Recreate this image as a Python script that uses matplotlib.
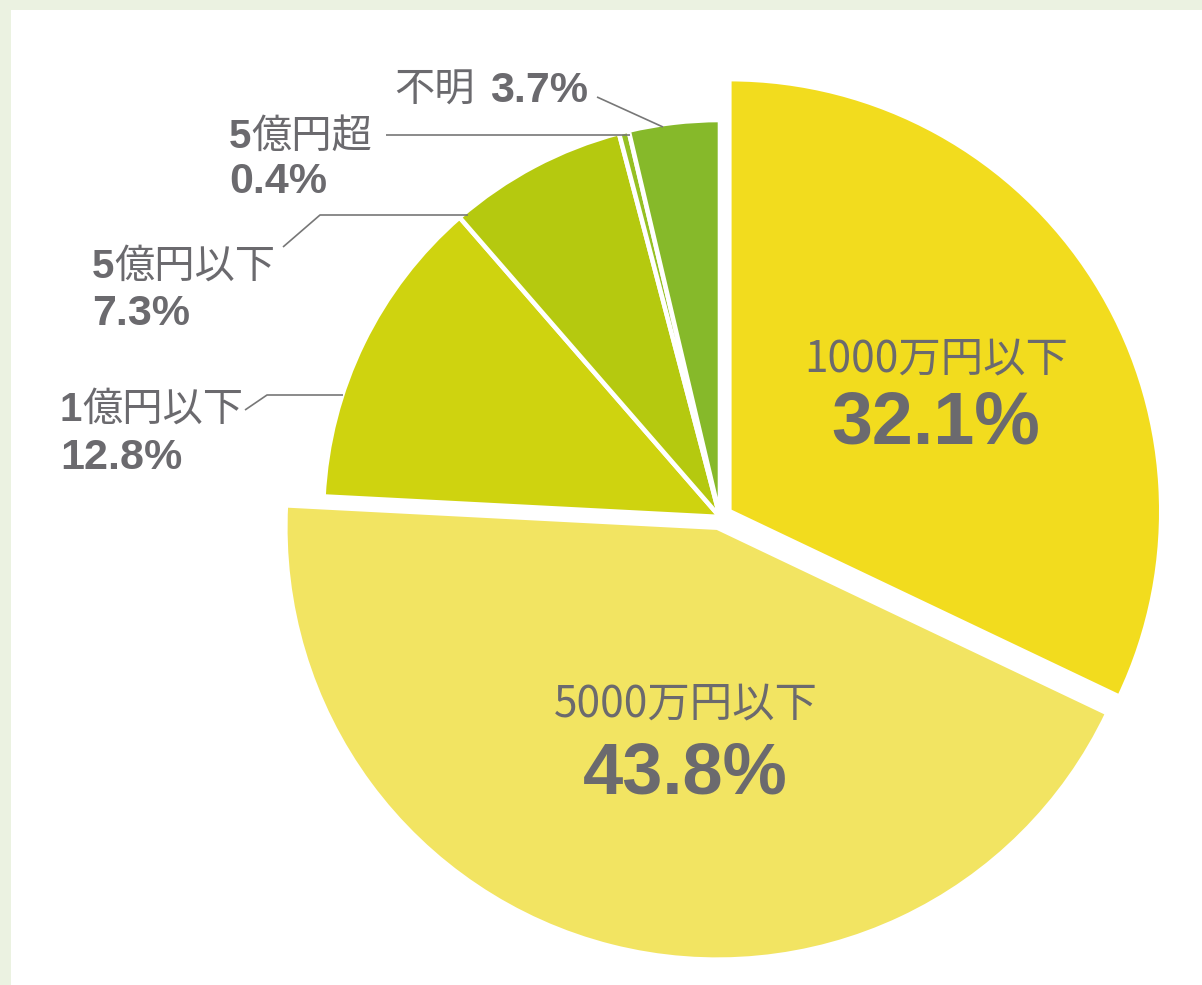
import matplotlib
matplotlib.use("Agg")
import matplotlib.pyplot as plt
from matplotlib.patches import Rectangle

# ---- data ----
categories = ["1000万円以下", "5000万円以下", "1億円以下", "5億円以下", "5億円超", "不明"]
values = [32.1, 43.8, 12.8, 7.3, 0.4, 3.7]
pct_labels = ["32.1%", "43.8%", "12.8%", "7.3%", "0.4%", "3.7%"]
colors = ["#f2dc1e", "#f2e462", "#cfd30f", "#b5c90f", "#96c023", "#86b92a"]

W, H = 1202, 985
TXT = "#6b6a6e"
LINE = "#777777"
FAM = ["Liberation Sans", "Noto Sans CJK JP", "DejaVu Sans"]
CJK = ["Noto Sans CJK JP", "DejaVu Sans"]

fig = plt.figure(figsize=(W / 100, H / 100), dpi=100, facecolor="#ebf2e1")
ax = fig.add_axes([0, 0, 1, 1])

def Y(py):
    return H - py

R_big = 432
R_small = 397
explode = [11, 11, 0, 0, 0, 0]
wedges, _ = ax.pie(values, colors=colors, startangle=90, counterclock=False,
                   radius=R_big, center=(720, Y(517)), explode=explode,
                   wedgeprops=dict(edgecolor="white", linewidth=3.3))
for w in wedges[2:]:
    w.set_radius(R_small)

ax.set_xlim(0, W)
ax.set_ylim(0, H)
ax.set_aspect("equal")
ax.axis("off")
ax.patch.set_alpha(0)
ax.add_patch(Rectangle((11, 0), W - 11, H - 10, facecolor="white",
                       edgecolor="none", zorder=-10))

renderer = fig.canvas.get_renderer()

def rich(x, y, parts):
    """Draw text pieces left to right on a common baseline (pixel coords)."""
    cx = x
    for s, wt, size in parts:
        t = ax.text(cx, Y(y), s, fontsize=size, fontweight=wt, color=TXT,
                    family=FAM, ha="left", va="baseline")
        bb = t.get_window_extent(renderer=renderer)
        cx += bb.width

# center labels
ax.text(936, Y(371), categories[0], fontsize=30.5, family=CJK, color=TXT,
        ha="center", va="baseline")
ax.text(936, Y(443), pct_labels[0], fontsize=53, family=FAM, fontweight="bold",
        color=TXT, ha="center", va="baseline")
ax.text(686, Y(716), categories[1], fontsize=30.5, family=CJK, color=TXT,
        ha="center", va="baseline")
ax.text(685, Y(793), pct_labels[1], fontsize=52, family=FAM, fontweight="bold",
        color=TXT, ha="center", va="baseline")

# outside labels
rich(60, 421, [("1", "bold", 29), ("億円以下", "normal", 29)])
rich(60, 469, [(pct_labels[2], "bold", 31)])
rich(92, 278, [("5", "bold", 29), ("億円以下", "normal", 29)])
rich(92, 325, [(pct_labels[3], "bold", 31)])
rich(229, 148, [("5", "bold", 29), ("億円超", "normal", 29)])
rich(229, 193, [(pct_labels[4], "bold", 31)])
rich(394, 102, [("不明", "normal", 29), ("  ", "normal", 20), (pct_labels[5], "bold", 31)])

# leader lines
lkw = dict(color=LINE, lw=1.2, solid_capstyle="butt")
ax.plot([597, 663], [Y(97), Y(127)], **lkw)
ax.plot([386, 630], [Y(135), Y(135)], **lkw)
ax.plot([283, 320, 468], [Y(247), Y(215), Y(215)], **lkw)
ax.plot([245, 267, 343], [Y(410), Y(395), Y(395)], **lkw)

fig.savefig("out.png", dpi=100, facecolor=fig.get_facecolor())
